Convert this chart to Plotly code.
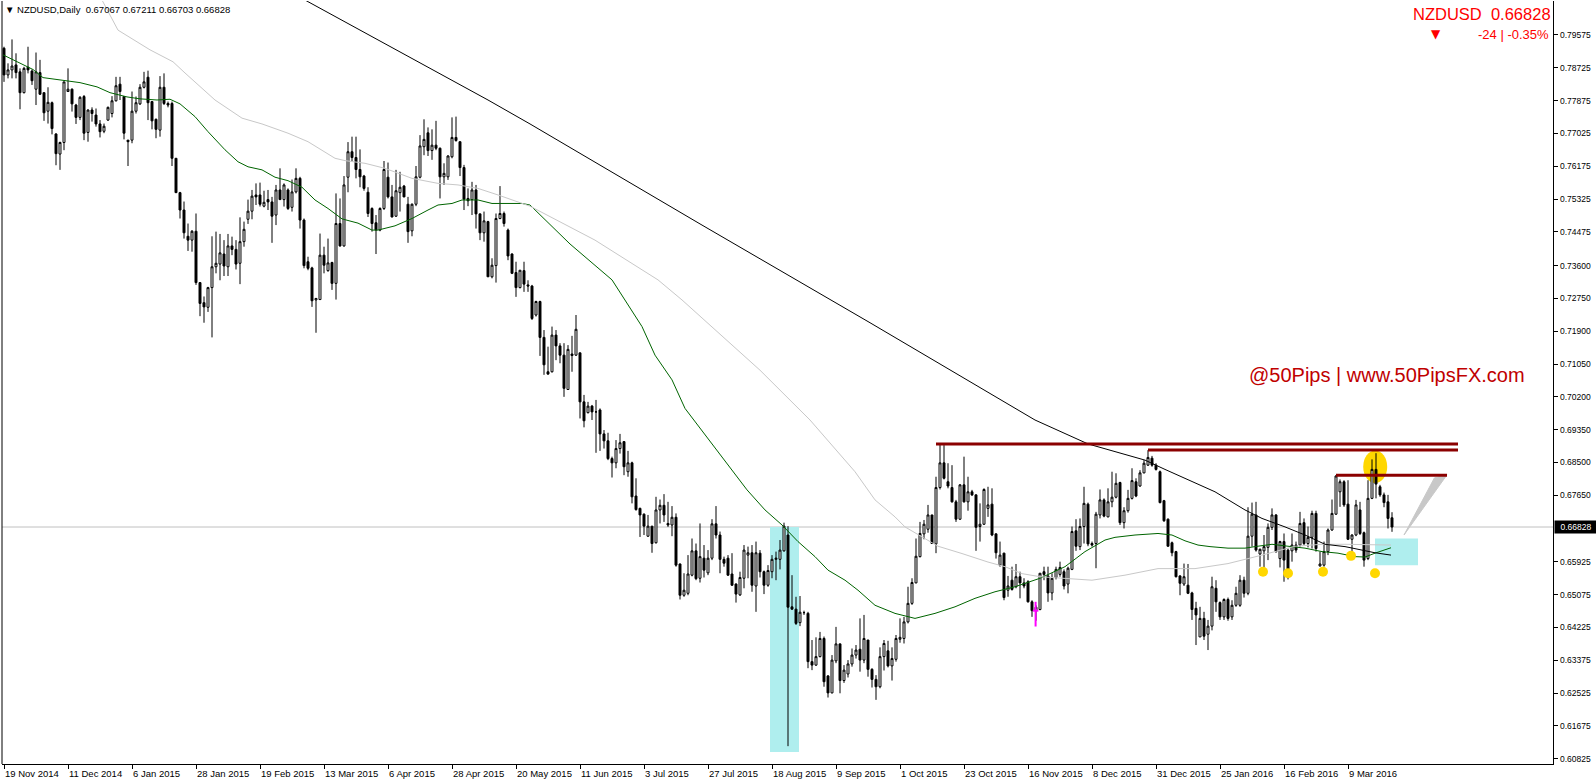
import plotly.graph_objects as go
import pandas as pd

# ---------------- data (NZDUSD daily, 19 Nov 2014 .. 24 Mar 2016) ----------------
opens = [.7923,.7854,.7867,.7880,.7862,.7808,.7874,.7864,.7817,.7860,.7808,.7760,.7782,.7701,.7649,.7679,.7811,.7817,.7776,.7744,
.7798,.7705,.7763,.7750,.7727,.7708,.7737,.7754,.7787,.7830,.7798,.7685,.7685,.7760,.7779,.7822,.7848,.7785,.7739,.7711,
.7822,.7780,.7780,.7638,.7549,.7504,.7436,.7426,.7449,.7316,.7264,.7252,.7303,.7357,.7364,.7390,.7357,.7411,.7402,.7366,
.7422,.7480,.7501,.7543,.7543,.7514,.7531,.7525,.7491,.7556,.7531,.7556,.7511,.7551,.7586,.7478,.7370,.7354,.7271,.7272,
.7387,.7347,.7368,.7314,.7469,.7411,.7589,.7655,.7640,.7609,.7592,.7550,.7508,.7471,.7452,.7508,.7589,.7538,.7488,.7549,
.7566,.7519,.7450,.7519,.7589,.7668,.7704,.7658,.7672,.7664,.7590,.7590,.7642,.7692,.7681,.7614,.7534,.7531,.7556,.7494,
.7445,.7474,.7331,.7360,.7482,.7495,.7452,.7390,.7342,.7303,.7347,.7310,.7307,.7232,.7267,.7174,.7085,.7085,.7180,.7152,
.7128,.7039,.7131,.7128,.7134,.7007,.6979,.6996,.6981,.6986,.6924,.6906,.6860,.6849,.6886,.6904,.6826,.6849,.6763,.6731,
.6716,.6659,.6685,.6642,.6727,.6739,.6692,.6688,.6708,.6587,.6506,.6511,.6558,.6621,.6550,.6602,.6564,.6602,.6691,.6662,
.6599,.6602,.6561,.6535,.6507,.6550,.6610,.6616,.6530,.6615,.6567,.6532,.6567,.6599,.6599,.6621,.6662,.6476,.6470,.6435,
.6461,.6459,.6334,.6325,.6347,.6394,.6297,.6253,.6336,.6380,.6285,.6302,.6328,.6351,.6366,.6338,.6390,.6314,.6288,.6269,
.6347,.6362,.6323,.6340,.6392,.6394,.6437,.6485,.6538,.6606,.6665,.6677,.6714,.6639,.6785,.6849,.6800,.6785,.6748,.6703,
.6792,.6748,.6774,.6766,.6684,.6690,.6731,.6742,.6665,.6584,.6615,.6519,.6545,.6528,.6554,.6538,.6541,.6489,.6466,.6469,
.6567,.6556,.6512,.6552,.6560,.6567,.6535,.6573,.6673,.6632,.6684,.6742,.6640,.6640,.6714,.6753,.6709,.6748,.6760,.6798,
.6694,.6725,.6757,.6800,.6789,.6823,.6843,.6861,.6843,.6826,.6751,.6703,.6642,.6619,.6556,.6535,.6532,.6512,.6472,.6398,
.6446,.6405,.6426,.6524,.6487,.6450,.6495,.6450,.6480,.6480,.6545,.6511,.6659,.6714,.6613,.6621,.6630,.6682,.6714,.6601,
.6645,.6623,.6621,.6636,.6636,.6694,.6640,.6656,.6718,.6582,.6584,.6619,.6675,.6716,.6774,.6800,.6742,.6651,.6662,.6727,
.6668,.6601,.6757,.6832,.6787,.6766,.6748,.67067]
highs = [.7927,.7884,.7946,.7910,.7871,.7875,.7927,.7868,.7912,.7893,.7808,.7822,.7785,.7703,.7681,.7836,.7871,.7819,.7779,.7799,
.7802,.7765,.7770,.7767,.7737,.7728,.7772,.7799,.7849,.7849,.7799,.7685,.7811,.7798,.7830,.7862,.7865,.7785,.7741,.7851,
.7858,.7785,.7785,.7638,.7551,.7526,.7469,.7452,.7495,.7316,.7280,.7305,.7436,.7448,.7442,.7426,.7442,.7435,.7426,.7485,
.7474,.7531,.7556,.7573,.7575,.7554,.7556,.7538,.7569,.7612,.7573,.7560,.7583,.7612,.7590,.7482,.7383,.7357,.7275,.7443,
.7409,.7430,.7370,.7547,.7534,.7592,.7680,.7694,.7694,.7661,.7595,.7563,.7511,.7491,.7511,.7631,.7627,.7569,.7608,.7603,
.7569,.7538,.7521,.7618,.7698,.7739,.7718,.7713,.7735,.7666,.7625,.7646,.7744,.7746,.7681,.7621,.7560,.7577,.7569,.7495,
.7500,.7476,.7379,.7495,.7566,.7500,.7456,.7392,.7370,.7348,.7370,.7322,.7310,.7269,.7269,.7193,.7150,.7202,.7193,.7159,
.7159,.7154,.7178,.7232,.7134,.7025,.7007,.6999,.7012,.6990,.6934,.6927,.6865,.6908,.6924,.6904,.6880,.6852,.6809,.6733,
.6718,.6714,.6685,.6761,.6754,.6768,.6748,.6737,.6718,.6588,.6563,.6610,.6653,.6640,.6692,.6636,.6623,.6703,.6737,.6671,
.6606,.6610,.6615,.6537,.6567,.6636,.6632,.6636,.6645,.6623,.6570,.6584,.6610,.6619,.6649,.6694,.6685,.6558,.6502,.6504,
.6466,.6463,.6390,.6397,.6411,.6399,.6299,.6351,.6424,.6381,.6325,.6338,.6368,.6377,.6446,.6455,.6390,.6317,.6299,.6371,
.6390,.6388,.6371,.6403,.6446,.6450,.6528,.6550,.6653,.6696,.6701,.6740,.6714,.6813,.6898,.6895,.6848,.6843,.6753,.6794,
.6865,.6813,.6779,.6768,.6744,.6783,.6787,.6783,.6666,.6645,.6616,.6556,.6580,.6587,.6567,.6550,.6545,.6493,.6480,.6563,
.6580,.6580,.6563,.6580,.6593,.6573,.6580,.6684,.6703,.6705,.6787,.6746,.6645,.6722,.6780,.6757,.6783,.6826,.6822,.6800,
.6734,.6779,.6835,.6809,.6830,.6856,.6882,.6867,.6848,.6829,.6753,.6705,.6645,.6621,.6558,.6588,.6587,.6515,.6489,.6476,
.6463,.6442,.6554,.6545,.6490,.6498,.6500,.6493,.6528,.6558,.6554,.6734,.6746,.6748,.6627,.6662,.6692,.6731,.6716,.6647,
.6666,.6627,.6666,.6645,.6722,.6705,.6684,.6725,.6725,.6619,.6645,.6679,.6754,.6817,.6806,.6804,.6804,.6664,.6753,.6748,
.6671,.6804,.6858,.6874,.6792,.6772,.6766,.67211]
lows = [.7836,.7845,.7845,.7845,.7765,.7806,.7858,.7828,.7776,.7802,.7735,.7728,.7700,.7620,.7608,.7659,.7811,.7759,.7727,.7737,
.7685,.7681,.7733,.7720,.7692,.7703,.7735,.7744,.7785,.7789,.7687,.7618,.7677,.7754,.7776,.7819,.7737,.7713,.7690,.7694,
.7776,.7770,.7618,.7548,.7482,.7430,.7398,.7396,.7310,.7229,.7212,.7240,.7174,.7340,.7322,.7333,.7333,.7387,.7350,.7312,
.7409,.7468,.7480,.7517,.7513,.7511,.7504,.7419,.7465,.7530,.7513,.7504,.7500,.7547,.7456,.7353,.7348,.7253,.7186,.7271,
.7340,.7344,.7297,.7272,.7409,.7409,.7550,.7630,.7586,.7563,.7554,.7486,.7448,.7390,.7449,.7504,.7534,.7485,.7486,.7500,
.7537,.7419,.7436,.7514,.7586,.7646,.7644,.7634,.7659,.7534,.7569,.7582,.7638,.7681,.7592,.7504,.7514,.7491,.7456,.7426,
.7422,.7331,.7327,.7316,.7480,.7461,.7374,.7338,.7279,.7301,.7292,.7292,.7219,.7228,.7126,.7077,.7077,.7083,.7115,.7107,
.7020,.7038,.7085,.7126,.6964,.6941,.6977,.6960,.6875,.6880,.6886,.6856,.6811,.6835,.6873,.6817,.6813,.6744,.6725,.6657,
.6662,.6657,.6616,.6640,.6692,.6696,.6683,.6659,.6580,.6495,.6502,.6506,.6555,.6545,.6539,.6552,.6558,.6597,.6653,.6563,
.6580,.6556,.6530,.6487,.6504,.6524,.6550,.6515,.6463,.6552,.6509,.6528,.6550,.6545,.6573,.6619,.6115,.6468,.6429,.6426,
.6455,.6317,.6312,.6323,.6345,.6269,.6241,.6252,.6330,.6252,.6279,.6293,.6321,.6342,.6308,.6330,.6295,.6267,.6235,.6265,
.6311,.6319,.6285,.6334,.6383,.6381,.6433,.6481,.6537,.6604,.6651,.6668,.6639,.6615,.6780,.6806,.6783,.6746,.6696,.6701,
.6746,.6725,.6763,.6621,.6645,.6688,.6709,.6659,.6601,.6580,.6493,.6502,.6518,.6524,.6498,.6524,.6487,.6450,.6440,.6467,
.6545,.6489,.6493,.6547,.6554,.6521,.6511,.6571,.6621,.6623,.6640,.6633,.6632,.6576,.6705,.6708,.6708,.6734,.6757,.6688,
.6679,.6720,.6754,.6760,.6787,.6822,.6841,.6839,.6829,.6744,.6696,.6632,.6607,.6552,.6506,.6530,.6509,.6442,.6377,.6398,
.6390,.6364,.6415,.6463,.6442,.6442,.6440,.6442,.6476,.6476,.6500,.6506,.6632,.6619,.6580,.6578,.6597,.6675,.6616,.6578,
.6541,.6547,.6593,.6616,.6632,.6636,.6630,.6627,.6619,.6580,.6580,.6610,.6673,.6714,.6735,.6735,.6649,.6615,.6659,.6662,
.6580,.6597,.6755,.6757,.6761,.6734,.6679,.66703]
closes = [.7854,.7867,.7877,.7860,.7808,.7871,.7867,.7839,.7862,.7804,.7756,.7783,.7715,.7650,.7679,.7836,.7817,.7779,.7744,.7796,
.7703,.7763,.7754,.7727,.7707,.7721,.7770,.7787,.7826,.7811,.7703,.7681,.7760,.7782,.7822,.7836,.7782,.7735,.7713,.7822,
.7780,.7776,.7638,.7549,.7504,.7445,.7426,.7449,.7316,.7262,.7253,.7303,.7357,.7366,.7393,.7359,.7411,.7402,.7364,.7422,
.7454,.7501,.7540,.7538,.7519,.7524,.7525,.7488,.7556,.7531,.7569,.7508,.7551,.7586,.7478,.7360,.7353,.7269,.7275,.7387,
.7361,.7367,.7314,.7469,.7411,.7569,.7655,.7640,.7609,.7590,.7560,.7495,.7469,.7452,.7508,.7609,.7538,.7486,.7554,.7563,
.7538,.7448,.7519,.7590,.7670,.7687,.7658,.7672,.7664,.7590,.7599,.7644,.7692,.7684,.7614,.7532,.7528,.7556,.7494,.7445,
.7476,.7331,.7361,.7482,.7495,.7469,.7385,.7340,.7303,.7348,.7312,.7307,.7223,.7267,.7174,.7103,.7079,.7180,.7152,.7128,
.7042,.7143,.7127,.7195,.7007,.6958,.6996,.6981,.6981,.6924,.6906,.6860,.6849,.6886,.6901,.6839,.6849,.6761,.6728,.6714,
.6685,.6685,.6640,.6727,.6739,.6714,.6688,.6708,.6584,.6506,.6519,.6561,.6621,.6549,.6606,.6571,.6602,.6691,.6662,.6599,
.6589,.6558,.6532,.6509,.6552,.6623,.6616,.6532,.6616,.6567,.6532,.6570,.6599,.6602,.6623,.6685,.6475,.6470,.6433,.6462,
.6461,.6334,.6325,.6347,.6394,.6282,.6253,.6338,.6380,.6285,.6312,.6328,.6351,.6364,.6338,.6394,.6314,.6288,.6269,.6347,
.6381,.6323,.6342,.6394,.6397,.6437,.6485,.6539,.6607,.6666,.6690,.6714,.6640,.6785,.6849,.6809,.6789,.6748,.6703,.6792,
.6748,.6774,.6766,.6682,.6690,.6780,.6740,.6662,.6616,.6610,.6500,.6530,.6521,.6554,.6538,.6530,.6489,.6466,.6475,.6563,
.6560,.6512,.6550,.6573,.6578,.6530,.6576,.6671,.6633,.6684,.6744,.6639,.6636,.6716,.6753,.6711,.6748,.6760,.6796,.6694,
.6725,.6757,.6803,.6763,.6823,.6848,.6863,.6843,.6832,.6746,.6699,.6633,.6616,.6554,.6537,.6554,.6511,.6469,.6455,.6446,
.6400,.6426,.6528,.6489,.6450,.6495,.6446,.6480,.6511,.6545,.6511,.6659,.6716,.6623,.6625,.6632,.6682,.6714,.6619,.6645,
.6597,.6571,.6636,.6623,.6692,.6640,.6656,.6718,.6627,.6587,.6619,.6675,.6718,.6815,.6800,.6740,.6651,.6662,.6740,.6666,
.6597,.6757,.6832,.6794,.6766,.6746,.6705,.66828]

# bar dates (weekdays, Christmas / New Year missing)
dates = [d for d in pd.bdate_range("2014-11-19", "2016-03-24")
         if not (d.month == 12 and d.day == 25) and not (d.month == 1 and d.day == 1)]
n = min(len(closes), len(dates))
bar_index = list(range(n))

# time-scale labels (every 16 bars starting at 19 Nov 2014)
tick_labels = ["19 Nov 2014", "11 Dec 2014", "6 Jan 2015", "28 Jan 2015", "19 Feb 2015", "13 Mar 2015",
               "6 Apr 2015", "28 Apr 2015", "20 May 2015", "11 Jun 2015", "3 Jul 2015", "27 Jul 2015",
               "18 Aug 2015", "9 Sep 2015", "1 Oct 2015", "23 Oct 2015", "16 Nov 2015", "8 Dec 2015",
               "31 Dec 2015", "25 Jan 2016", "16 Feb 2016", "9 Mar 2016"]
tick_bars = [0, 16, 32, 48, 64, 80, 96, 112, 128, 144, 160, 176, 192, 208, 224, 240, 256, 272, 288, 304, 320, 336]

price_ticks = [0.79575, 0.78725, 0.77875, 0.77025, 0.76175, 0.75325, 0.74475, 0.73600, 0.72750, 0.71900,
               0.71050, 0.70200, 0.69350, 0.68500, 0.67650, 0.65925, 0.65075, 0.64225, 0.63375, 0.62525,
               0.61675, 0.60825]

# moving averages (bar position, price)
green_x = [-0.25, 4, 7.25, 9.75, 14.75, 19, 23.25, 26.5, 30.75, 34, 38.25, 41.5, 44, 47.75, 51, 55.25, 58.5, 61, 64.5, 67.75,
           71, 74.5, 77.75, 81, 84.5, 88.5, 92, 93.5, 97.75, 102, 106, 108.5, 112, 114.5, 118.5, 122, 126, 129.5, 131.5, 141.5,
           152, 156, 159.5, 162.75, 167, 170.25, 174, 185.75, 190.25, 194.5, 198.5, 202.75, 206, 210.25, 213.5, 217.75, 222.75,
           227.75, 232.75, 237.75, 242.75, 247.75, 252.75, 259, 265.25, 270.25, 275.25, 277.75, 282.75, 288.5, 292, 295.25,
           298.5, 301.5, 306, 310.25, 312.75, 317, 321, 325.25, 329.5, 333.5, 337.75, 340.25, 342.75, 346.75]
green_y = [.7906, .7884, .7868, .7847, .7839, .7834, .7823, .7808, .7797, .7792, .7789, .7791, .7779, .7746, .7707, .7660,
           .7629, .7616, .7608, .7589, .7580, .7563, .7530, .7508, .7481, .7470, .7452, .7452, .7463, .7482, .7504, .7517,
           .7521, .7530, .7530, .7521, .7521, .7521, .7517, .7416, .7323, .7258, .7202, .7128, .7064, .6990, .6939, .6779,
           .6727, .6688, .6645, .6606, .6571, .6545, .6519, .6480, .6459, .6446, .6459, .6476, .6498, .6515, .6528, .6550,
           .6580, .6619, .6649, .6656, .6662, .6666, .6662, .6647, .6636, .6632, .6628, .6628, .6632, .6638, .6633, .6628,
           .6619, .6615, .6606, .6605, .6615, .6629]
grey_x = [24.5, 28.5, 36.5, 42.25, 45.25, 52.75, 59.5, 64.5, 71, 76, 82.75, 85.25, 90.25, 95.25, 102, 108.5, 113.5, 118.5,
          123.5, 128.5, 131.5, 147.75, 163.5, 169.5, 174, 189, 201.5, 212.75, 217.75, 222.75, 225.25, 229.5, 233.5, 239.5,
          246, 250.25, 254.5, 259, 272, 280.25, 288.5, 297.75, 306, 314.5, 322.75, 329.5, 335.25, 346.75]
grey_y = [.8048, .7970, .7919, .7888, .7859, .7789, .7742, .7727, .7703, .7681, .7638, .7632, .7625, .7612, .7586, .7573,
          .7569, .7560, .7543, .7526, .7514, .7426, .7323, .7271, .7229, .7089, .6960, .6826, .6753, .6709, .6683, .6657,
          .6633, .6614, .6592, .6580, .6562, .6554, .6545, .6558, .6575, .6575, .6588, .6610, .6633, .6638, .6638, .6636]
black_x = [75.25, 99, 121, 131.5, 174, 216.5, 257.75, 271, 285.25, 290.25, 297.75, 302.75, 310.25, 314.5, 320.25,
           325.25, 330.25, 335.25, 339.5, 342.75, 346.75]
black_y = [.8048, .7913, .7789, .7727, .7468, .7212, .6960, .6898, .6856, .6832, .6796, .6774, .6727, .6705, .6683,
           .6662, .6638, .6632, .6623, .6616, .6610]

# analyst drawings
res_start = [233, 286, 333]
res_end = [363.5, 363.5, 360.75]
res_level = [0.6898, 0.6882, 0.6817]
box_x0 = [191.5, 342.75]
box_x1 = [198.75, 353.5]
box_y0 = [0.6100, 0.6584]
box_y1 = [0.66828, 0.6653]
dot_x = [314.75, 321, 329.75, 336.75, 342.75]
dot_y = [0.6567, 0.6563, 0.6567, 0.6608, 0.6563]

# ---------------- figure ----------------
fig = go.Figure()

shapes = []
for x0, x1, y0, y1 in zip(box_x0, box_x1, box_y0, box_y1):
    shapes.append(dict(type="rect", xref="x", yref="y", x0=x0, x1=x1, y0=y0, y1=y1,
                       fillcolor="#AFEEEE", line=dict(width=0), layer="below"))
# grey pointer wedge
shapes.append(dict(type="path", xref="x", yref="y",
                   path="M 350.0 0.6662 L 357.6 0.6810 L 360.75 0.6818 Z",
                   fillcolor="#C8C8C8", line=dict(color="#C8C8C8", width=1), layer="below"))
# current price line
shapes.append(dict(type="line", xref="paper", yref="y", x0=0, x1=1, y0=closes[-1], y1=closes[-1],
                   line=dict(color="#C0C0C0", width=1), layer="below"))
# yellow ellipse around the spike
shapes.append(dict(type="circle", xref="x", yref="y", x0=339.8, x1=345.8, y0=0.6797, y1=0.6881,
                   fillcolor="#FFD700", line=dict(width=0), layer="below"))
fig.add_trace(go.Scatter(x=green_x, y=green_y, mode="lines", line=dict(color="#006400", width=1), hoverinfo="skip"))
fig.add_trace(go.Scatter(x=grey_x, y=grey_y, mode="lines", line=dict(color="#C8C8C8", width=1), hoverinfo="skip"))
fig.add_trace(go.Scatter(x=black_x, y=black_y, mode="lines", line=dict(color="#000000", width=1), hoverinfo="skip"))

fig.add_trace(go.Candlestick(
    x=bar_index, open=opens[:n], high=highs[:n], low=lows[:n], close=closes[:n],
    increasing=dict(line=dict(color="black", width=1), fillcolor="white"),
    decreasing=dict(line=dict(color="black", width=1), fillcolor="black"),
    whiskerwidth=0, hoverinfo="skip"))

fig.add_trace(go.Scatter(x=dot_x, y=dot_y, mode="markers",
                         marker=dict(color="#FFD700", size=10), hoverinfo="skip"))
# magenta arrow mark
fig.add_trace(go.Scatter(x=[257.9, 257.9, None, 257.2, 258.6], y=[0.6489, 0.6425, None, 0.6466, 0.6466],
                         mode="lines", line=dict(color="#FF00FF", width=2), hoverinfo="skip"))

for x0, x1, lv in zip(res_start, res_end, res_level):
    shapes.append(dict(type="line", xref="x", yref="y", x0=x0, x1=x1, y0=lv, y1=lv,
                       line=dict(color="#8B0000", width=3)))

annotations = []
for tb, tl in zip(tick_bars, tick_labels):
    annotations.append(dict(x=tb, y=0, xref="x", yref="paper", text=tl, showarrow=False,
                            xanchor="left", yanchor="top", xshift=-1, yshift=-2,
                            font=dict(family="Liberation Sans", size=9.5, color="black")))
for pv in price_ticks:
    annotations.append(dict(x=1, y=pv, xref="paper", yref="y", text=f"{pv:.5f}", showarrow=False,
                            xanchor="left", yanchor="middle", xshift=5,
                            font=dict(family="Liberation Sans", size=8.5, color="black")))
annotations += [
    dict(x=0, y=1, xref="paper", yref="paper", xanchor="left", yanchor="top", showarrow=False,
         text="▼ NZDUSD,Daily  0.67067 0.67211 0.66703 0.66828", xshift=1, yshift=-1,
         font=dict(family="Liberation Sans", size=9.5, color="black")),
    dict(x=1.0, y=0.998, xref="paper", yref="paper", xanchor="right", yanchor="top", showarrow=False,
         text="NZDUSD  0.66828", font=dict(family="Liberation Sans", size=16.5, color="#FF0000")),
    dict(x=0.9985, y=0.9685, xref="paper", yref="paper", xanchor="right", yanchor="top", showarrow=False,
         text="-24 | -0.35%", font=dict(family="Liberation Sans", size=13, color="#FF0000")),
    dict(x=0.9248, y=0.9685, xref="paper", yref="paper", xanchor="center", yanchor="top", showarrow=False,
         text="▼", font=dict(family="DejaVu Sans", size=12, color="#FF0000")),
    dict(x=0.9832, y=0.7077, xref="paper", yref="y", xanchor="right", yanchor="middle", showarrow=False,
         text="@50Pips | www.50PipsFX.com", font=dict(family="Liberation Sans", size=20, color="#C00000")),
    dict(x=1.0, y=closes[-1], xref="paper", yref="y", xanchor="left", yanchor="middle", showarrow=False,
         text="0.66828", xshift=1, bgcolor="black", borderpad=1, width=40, align="center",
         font=dict(family="Liberation Sans", size=8.5, color="white")),
]

fig.update_layout(
    width=1596, height=784,
    margin=dict(l=2, r=43, t=1, b=20),
    paper_bgcolor="white", plot_bgcolor="white",
    showlegend=False, hovermode=False,
    shapes=shapes, annotations=annotations,
    xaxis=dict(range=[-0.5, 387.25], showgrid=False, zeroline=False, rangeslider=dict(visible=False),
               tickmode="array", tickvals=tick_bars, ticktext=tick_labels, showticklabels=False,
               ticks="outside", ticklen=4, tickcolor="black",
               showline=True, linecolor="black", linewidth=1, mirror=False),
    yaxis=dict(range=[0.60688, 0.80455], side="right", showgrid=False, zeroline=False,
               tickmode="array", tickvals=price_ticks, showticklabels=False,
               ticks="outside", ticklen=4, tickcolor="black",
               showline=True, linecolor="black", linewidth=1),
)
fig.add_shape(type="line", xref="paper", yref="paper", x0=0, x1=0, y0=0, y1=1,
              line=dict(color="black", width=1))

fig.write_html("out.html", config={"displayModeBar": False},
               post_script="document.body.style.margin='0';document.body.style.padding='0';")
